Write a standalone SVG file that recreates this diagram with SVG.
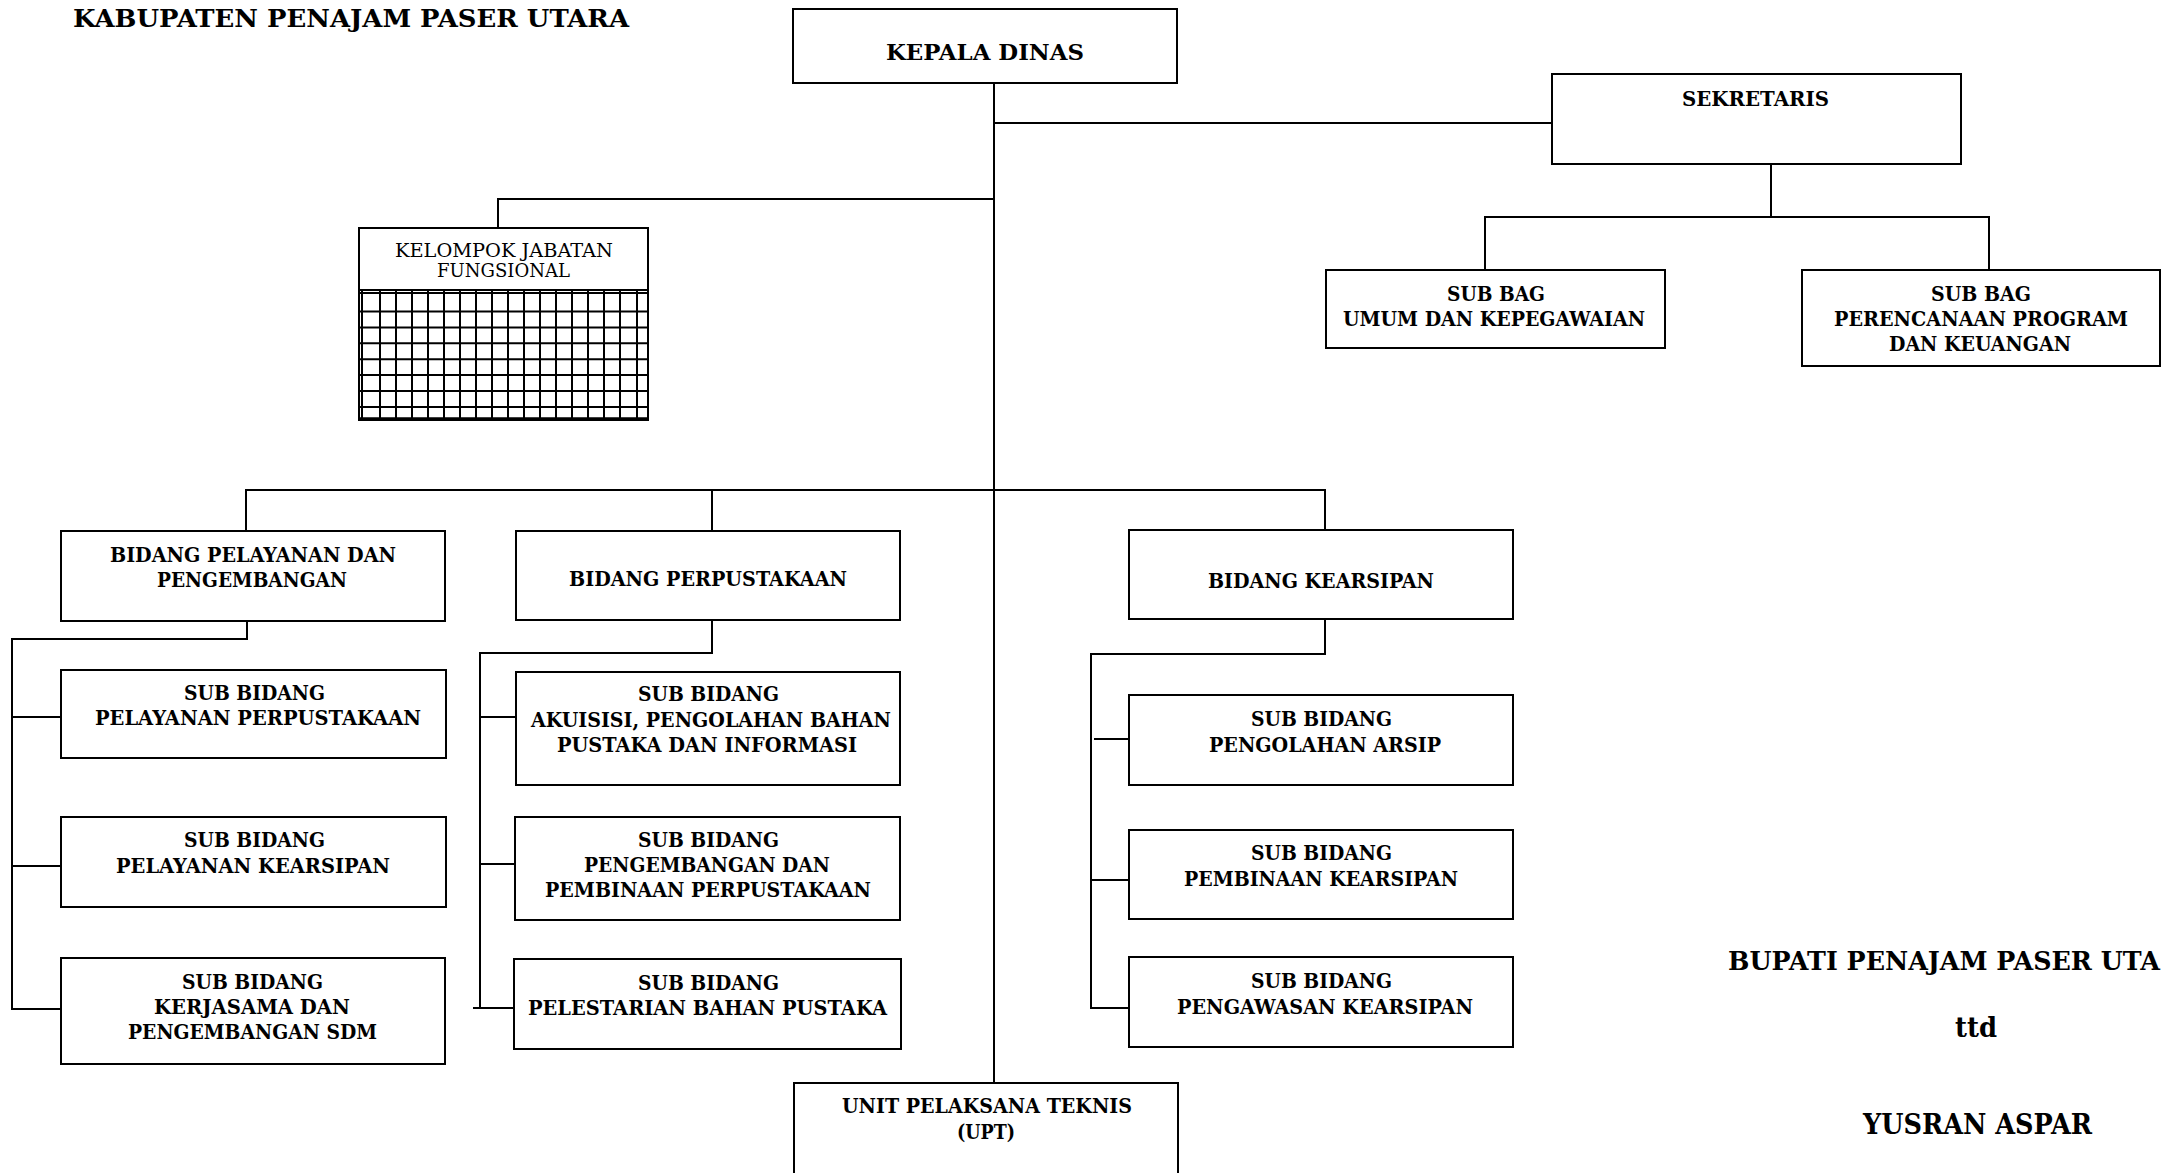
<svg xmlns="http://www.w3.org/2000/svg" width="2172" height="1173" viewBox="0 0 2172 1173">
<style>
.bg{fill:#fff}
.box{fill:#fff;stroke:#000;stroke-width:2}
.t{font-family:"DejaVu Serif","Liberation Serif",serif;font-weight:bold;font-size:19.5px;fill:#000}
.r{font-family:"DejaVu Serif","Liberation Serif",serif;font-weight:normal;font-size:19px;fill:#000}
.big{font-size:24.5px}
.sig{font-size:28px}
.c path,.c line{stroke:#000;stroke-width:2;fill:none}
.g line{stroke:#000;stroke-width:2}
</style>
<rect class="bg" x="0" y="0" width="2172" height="1173"/>

<g id="connectors" class="c">
<line x1="994" y1="83" x2="994" y2="1083"/>
<line x1="994" y1="123" x2="1552" y2="123"/>
<path d="M1771 164V217M1485 270V217H1989V270"/>
<path d="M994 199H498V228"/>
<path d="M246 531V490H1325V530M712 490V531"/>
<path d="M247 621V639H12V1009H61M13 717H61M12 866H61"/>
<path d="M712 620V653H480V1008M480 717H516M480 864H515M473 1008H514"/>
<path d="M1325 619V654H1091V1008H1129M1094 739H1129M1091 880H1129"/>
</g>

<text id="title" class="t big" x="73" y="27" textLength="556" lengthAdjust="spacingAndGlyphs">KABUPATEN PENAJAM PASER UTARA</text>

<g id="kepala-dinas">
<rect class="box" x="793" y="9" width="384" height="74"/>
<text class="t" style="font-size:22px" x="886" y="60" textLength="198" lengthAdjust="spacingAndGlyphs">KEPALA DINAS</text>
</g>

<g id="sekretaris">
<rect class="box" x="1552" y="74" width="409" height="90"/>
<text class="t" x="1682" y="106" textLength="147" lengthAdjust="spacingAndGlyphs">SEKRETARIS</text>
</g>

<g id="subbag-umum">
<rect class="box" x="1326" y="270" width="339" height="78"/>
<text class="t" x="1447" y="301" textLength="98" lengthAdjust="spacingAndGlyphs">SUB BAG</text>
<text class="t" x="1343" y="326" textLength="302" lengthAdjust="spacingAndGlyphs">UMUM DAN KEPEGAWAIAN</text>
</g>

<g id="subbag-perencanaan">
<rect class="box" x="1802" y="270" width="358" height="96"/>
<text class="t" x="1931" y="301" textLength="100" lengthAdjust="spacingAndGlyphs">SUB BAG</text>
<text class="t" x="1834" y="326" textLength="294" lengthAdjust="spacingAndGlyphs">PERENCANAAN PROGRAM</text>
<text class="t" x="1889" y="351" textLength="182" lengthAdjust="spacingAndGlyphs">DAN KEUANGAN</text>
</g>

<g id="kelompok-jabatan-fungsional">
<rect class="box" x="359" y="228" width="289" height="192"/>
<line x1="359" y1="290" x2="648" y2="290" stroke="#000" stroke-width="2"/>
<g class="g">
<line x1="362" y1="290" x2="362" y2="420"/>
<line x1="380" y1="290" x2="380" y2="420"/>
<line x1="396" y1="290" x2="396" y2="420"/>
<line x1="412" y1="290" x2="412" y2="420"/>
<line x1="428" y1="290" x2="428" y2="420"/>
<line x1="444" y1="290" x2="444" y2="420"/>
<line x1="460" y1="290" x2="460" y2="420"/>
<line x1="476" y1="290" x2="476" y2="420"/>
<line x1="492" y1="290" x2="492" y2="420"/>
<line x1="508" y1="290" x2="508" y2="420"/>
<line x1="524" y1="290" x2="524" y2="420"/>
<line x1="540" y1="290" x2="540" y2="420"/>
<line x1="556" y1="290" x2="556" y2="420"/>
<line x1="572" y1="290" x2="572" y2="420"/>
<line x1="588" y1="290" x2="588" y2="420"/>
<line x1="604" y1="290" x2="604" y2="420"/>
<line x1="620" y1="290" x2="620" y2="420"/>
<line x1="637" y1="290" x2="637" y2="420"/>
<line x1="359" y1="293" x2="648" y2="293"/>
<line x1="359" y1="311.5" x2="648" y2="311.5"/>
<line x1="359" y1="327.5" x2="648" y2="327.5"/>
<line x1="359" y1="343.3" x2="648" y2="343.3"/>
<line x1="359" y1="359.2" x2="648" y2="359.2"/>
<line x1="359" y1="375.1" x2="648" y2="375.1"/>
<line x1="359" y1="391" x2="648" y2="391"/>
<line x1="359" y1="406.9" x2="648" y2="406.9"/>
<line x1="359" y1="418.3" x2="648" y2="418.3"/>
</g>
<text class="r" x="395" y="257" textLength="218" lengthAdjust="spacingAndGlyphs">KELOMPOK JABATAN</text>
<text class="r" x="437" y="277" textLength="133" lengthAdjust="spacingAndGlyphs">FUNGSIONAL</text>
</g>

<g id="bidang-pelayanan">
<rect class="box" x="61" y="531" width="384" height="90"/>
<text class="t" x="110" y="562" textLength="286" lengthAdjust="spacingAndGlyphs">BIDANG PELAYANAN DAN</text>
<text class="t" x="157" y="587" textLength="190" lengthAdjust="spacingAndGlyphs">PENGEMBANGAN</text>
</g>

<g id="bidang-perpustakaan">
<rect class="box" x="516" y="531" width="384" height="89"/>
<text class="t" x="569" y="586" textLength="278" lengthAdjust="spacingAndGlyphs">BIDANG PERPUSTAKAAN</text>
</g>

<g id="bidang-kearsipan">
<rect class="box" x="1129" y="530" width="384" height="89"/>
<text class="t" x="1208" y="588" textLength="226" lengthAdjust="spacingAndGlyphs">BIDANG KEARSIPAN</text>
</g>

<g id="subbid-pelayanan-perpustakaan">
<rect class="box" x="61" y="670" width="385" height="88"/>
<text class="t" x="184" y="700" textLength="141" lengthAdjust="spacingAndGlyphs">SUB BIDANG</text>
<text class="t" x="95" y="725" textLength="326" lengthAdjust="spacingAndGlyphs">PELAYANAN PERPUSTAKAAN</text>
</g>

<g id="subbid-pelayanan-kearsipan">
<rect class="box" x="61" y="817" width="385" height="90"/>
<text class="t" x="184" y="847" textLength="141" lengthAdjust="spacingAndGlyphs">SUB BIDANG</text>
<text class="t" x="116" y="873" textLength="274" lengthAdjust="spacingAndGlyphs">PELAYANAN KEARSIPAN</text>
</g>

<g id="subbid-kerjasama">
<rect class="box" x="61" y="958" width="384" height="106"/>
<text class="t" x="182" y="989" textLength="141" lengthAdjust="spacingAndGlyphs">SUB BIDANG</text>
<text class="t" x="154" y="1014" textLength="196" lengthAdjust="spacingAndGlyphs">KERJASAMA DAN</text>
<text class="t" x="128" y="1039" textLength="249" lengthAdjust="spacingAndGlyphs">PENGEMBANGAN SDM</text>
</g>

<g id="subbid-akuisisi">
<rect class="box" x="516" y="672" width="384" height="113"/>
<text class="t" x="638" y="701" textLength="141" lengthAdjust="spacingAndGlyphs">SUB BIDANG</text>
<text class="t" x="531" y="727" textLength="360" lengthAdjust="spacingAndGlyphs">AKUISISI, PENGOLAHAN BAHAN</text>
<text class="t" x="557" y="752" textLength="300" lengthAdjust="spacingAndGlyphs">PUSTAKA DAN INFORMASI</text>
</g>

<g id="subbid-pengembangan">
<rect class="box" x="515" y="817" width="385" height="103"/>
<text class="t" x="638" y="847" textLength="141" lengthAdjust="spacingAndGlyphs">SUB BIDANG</text>
<text class="t" x="584" y="872" textLength="246" lengthAdjust="spacingAndGlyphs">PENGEMBANGAN DAN</text>
<text class="t" x="545" y="897" textLength="326" lengthAdjust="spacingAndGlyphs">PEMBINAAN PERPUSTAKAAN</text>
</g>

<g id="subbid-pelestarian">
<rect class="box" x="514" y="959" width="387" height="90"/>
<text class="t" x="638" y="990" textLength="141" lengthAdjust="spacingAndGlyphs">SUB BIDANG</text>
<text class="t" x="528" y="1015" textLength="359" lengthAdjust="spacingAndGlyphs">PELESTARIAN BAHAN PUSTAKA</text>
</g>

<g id="subbid-pengolahan-arsip">
<rect class="box" x="1129" y="695" width="384" height="90"/>
<text class="t" x="1251" y="726" textLength="141" lengthAdjust="spacingAndGlyphs">SUB BIDANG</text>
<text class="t" x="1209" y="752" textLength="232" lengthAdjust="spacingAndGlyphs">PENGOLAHAN ARSIP</text>
</g>

<g id="subbid-pembinaan-kearsipan">
<rect class="box" x="1129" y="830" width="384" height="89"/>
<text class="t" x="1251" y="860" textLength="141" lengthAdjust="spacingAndGlyphs">SUB BIDANG</text>
<text class="t" x="1184" y="886" textLength="274" lengthAdjust="spacingAndGlyphs">PEMBINAAN KEARSIPAN</text>
</g>

<g id="subbid-pengawasan-kearsipan">
<rect class="box" x="1129" y="957" width="384" height="90"/>
<text class="t" x="1251" y="988" textLength="141" lengthAdjust="spacingAndGlyphs">SUB BIDANG</text>
<text class="t" x="1177" y="1014" textLength="296" lengthAdjust="spacingAndGlyphs">PENGAWASAN KEARSIPAN</text>
</g>

<g id="upt">
<rect class="box" x="794" y="1083" width="384" height="110"/>
<text class="t" x="842" y="1113" textLength="290" lengthAdjust="spacingAndGlyphs">UNIT PELAKSANA TEKNIS</text>
<text class="t" x="957" y="1139" textLength="58" lengthAdjust="spacingAndGlyphs">(UPT)</text>
</g>

<g id="signature">
<text class="t" style="font-size:26px" x="1728" y="970" textLength="432" lengthAdjust="spacingAndGlyphs">BUPATI PENAJAM PASER UTA</text>
<text class="t sig" x="1955" y="1037" textLength="42" lengthAdjust="spacingAndGlyphs">ttd</text>
<text class="t sig" x="1863" y="1134" textLength="229" lengthAdjust="spacingAndGlyphs">YUSRAN ASPAR</text>
</g>
</svg>
